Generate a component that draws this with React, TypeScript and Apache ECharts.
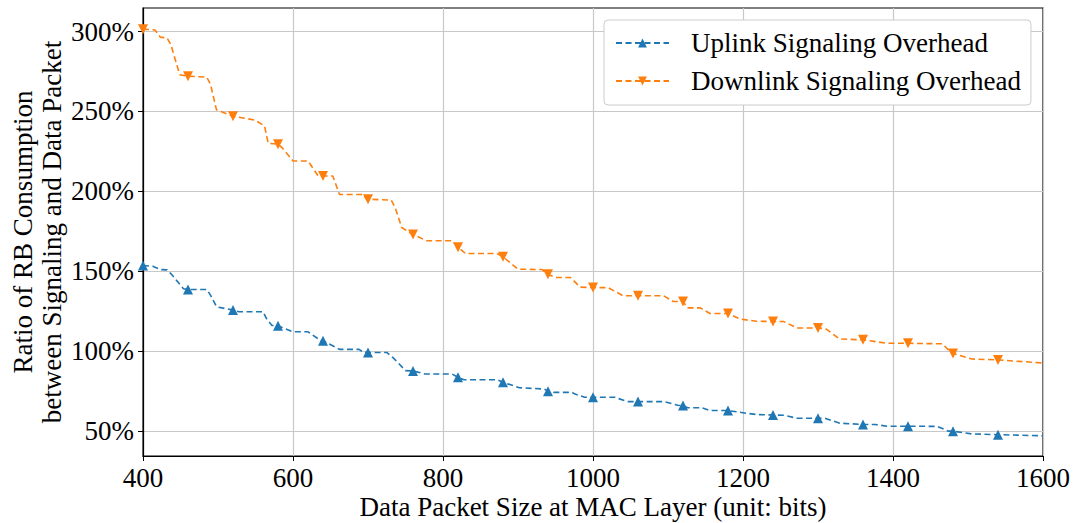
import React, { useEffect, useRef } from "react";
import * as echarts from "echarts";

const uplinkX = [400, 413, 423, 432, 438, 454, 460, 485, 490, 498, 520, 528, 560, 565, 572, 580, 600, 620, 637, 640, 662, 688, 694, 700, 725, 733, 750, 760, 776, 812, 820, 828, 872, 880, 902, 935, 940, 948, 972, 976, 989, 1000, 1029, 1046, 1060, 1095, 1113, 1120, 1126, 1145, 1156, 1180, 1205, 1218, 1240, 1254, 1272, 1300, 1310, 1329, 1360, 1376, 1392, 1420, 1459, 1474, 1480, 1505, 1540, 1600];
const uplinkY = [153.5, 153, 151, 150.8, 148, 139, 138.5, 138.5, 135, 127.7, 125.6, 124.6, 124.6, 120, 116, 115.8, 112, 112, 106.5, 106.4, 101, 101, 99.2, 99.1, 99.1, 96, 87.7, 87.5, 85.6, 85.6, 83.5, 82, 82, 80.4, 77, 76.2, 74.8, 74.1, 74.1, 73, 71, 71, 71, 68.3, 68.3, 68.3, 66, 65.8, 64.5, 64.5, 62.7, 62.7, 61, 60.2, 59.9, 59.8, 57.9, 57.9, 57.8, 54.8, 54, 54, 52.9, 52.9, 52.8, 49.8, 49.8, 48.1, 47.6, 46.9];

const downlinkX = [400, 416, 423, 432, 437, 449, 460, 485, 490, 498, 520, 549, 562, 567, 580, 586, 600, 620, 633, 640, 653, 662, 694, 698, 700, 731, 736, 745, 756, 760, 778, 812, 820, 830, 872, 880, 900, 932, 940, 950, 970, 983, 1000, 1020, 1040, 1060, 1094, 1107, 1120, 1126, 1143, 1156, 1180, 1196, 1218, 1240, 1254, 1272, 1300, 1310, 1329, 1360, 1392, 1420, 1466, 1478, 1480, 1505, 1540, 1600];
const downlinkY = [301.5, 301, 296.5, 296, 292, 273, 272, 271.5, 267, 251, 247, 244.6, 241, 230, 229.5, 227, 219, 219, 210, 209.6, 209.6, 198, 198, 195, 195, 194.5, 190, 177.3, 174, 173, 169, 169, 165, 161, 161, 159, 151.2, 151, 148, 146, 146, 140, 139.7, 139.7, 134.6, 134.6, 134.6, 131, 131, 127, 127, 123.5, 123.5, 120, 118.6, 118.5, 118.5, 114.4, 114.4, 114, 107.5, 107, 104.8, 104.8, 104.5, 98.5, 98.5, 95, 94.4, 92.5];

const markerX = [400, 460, 520, 580, 640, 700, 760, 820, 880, 940, 1000, 1060, 1120, 1180, 1240, 1300, 1360, 1420, 1480, 1540];
const yTicks = [50, 100, 150, 200, 250, 300];
const xTicks = [400, 600, 800, 1000, 1200, 1400, 1600];

const FONT = "'Liberation Serif', 'Times New Roman', serif";
const FS = 27;
const BLUE = "#1f77b4";
const ORANGE = "#ff7f0e";

function zip(xs: number[], ys: number[]) {
  return xs.map((x, i) => [x, ys[i]]);
}

export default function App() {
  const ref = useRef<HTMLDivElement>(null);
  useEffect(() => {
    if (!ref.current) return;
    const chart = echarts.init(ref.current, null, { renderer: "svg" });
    const markerSet = new Set(markerX);
    const symSize = (v: number[]) => (markerSet.has(v[0]) ? 10 : 0);
    chart.setOption({
      animation: false,
      backgroundColor: "#ffffff",
      textStyle: { fontFamily: FONT, color: "#000" },
      grid: {
        left: 143, right: 32, top: 8, bottom: 67,
        outerBoundsMode: "none",
        containLabel: false,
        show: true, borderColor: "#000", borderWidth: 1.2, backgroundColor: "transparent",
      },
      legend: {
        left: 604,
        top: 20,
        orient: "vertical",
        padding: [8, 10, 9, 11],
        itemGap: 8,
        itemWidth: 53,
        itemHeight: 11,
        backgroundColor: "#fff",
        borderColor: "#cccccc",
        borderWidth: 1,
        borderRadius: 4,
        textStyle: { fontFamily: FONT, fontSize: FS, color: "#000", lineHeight: 30, padding: [0, 0, 0, 17] },
        data: ["Uplink Signaling Overhead", "Downlink Signaling Overhead"],
      },
      xAxis: {
        type: "value",
        min: 400,
        max: 1600,
        interval: 200,
        name: "Data Packet Size at MAC Layer (unit: bits)",
        nameLocation: "middle",
        nameGap: 37,
        nameMoveOverlap: false,
        nameTextStyle: { fontFamily: FONT, fontSize: FS, color: "#000", lineHeight: 28, verticalAlign: "top" },
        axisLine: { show: true, onZero: false, lineStyle: { color: "#000", width: 1.2 } },
        axisTick: { show: true, length: 5, lineStyle: { color: "#000" }, customValues: xTicks },
        axisLabel: { fontFamily: FONT, fontSize: FS, lineHeight: 27, color: "#000", margin: 8, customValues: xTicks, formatter: (v: number) => String(v) },
        splitLine: { show: true, lineStyle: { color: "#c8c8c8", width: 1.2 } },
      },
      yAxis: {
        type: "value",
        min: 34.25,
        max: 314.75,
        name: "Ratio of RB Consumption\nbetween Signaling and Data Packet",
        nameLocation: "middle",
        nameRotate: 90,
        nameGap: 77,
        nameMoveOverlap: false,
        nameTextStyle: { fontFamily: FONT, fontSize: FS, color: "#000", lineHeight: 29 },
        axisLine: { show: true, onZero: false, lineStyle: { color: "#000", width: 1.2 } },
        axisTick: { show: true, length: 5, lineStyle: { color: "#000" }, customValues: yTicks },
        axisLabel: { fontFamily: FONT, fontSize: FS, color: "#000", margin: 9, formatter: (v: number) => v + "%", customValues: yTicks },
        splitLine: { show: true, lineStyle: { color: "#c8c8c8", width: 1.2 } },
      },
      series: [
        {
          name: "Uplink Signaling Overhead",
          type: "line",
          data: zip(uplinkX, uplinkY),
          symbol: "triangle",
          symbolSize: symSize,
          showSymbol: true,
          color: BLUE,
          itemStyle: { color: BLUE },
          lineStyle: { color: BLUE, width: 1.6, type: [6, 3.5] },
          z: 3,
        },
        {
          name: "Downlink Signaling Overhead",
          type: "line",
          data: zip(downlinkX, downlinkY),
          symbol: "triangle",
          symbolRotate: 180,
          symbolSize: symSize,
          showSymbol: true,
          color: ORANGE,
          itemStyle: { color: ORANGE },
          lineStyle: { color: ORANGE, width: 1.6, type: [6, 3.5] },
          z: 4,
        },
      ],
    });
    return () => chart.dispose();
  }, []);
  return <div ref={ref} style={{ position: "absolute", left: 0, top: 0, width: 1075, height: 523 }} />;
}
